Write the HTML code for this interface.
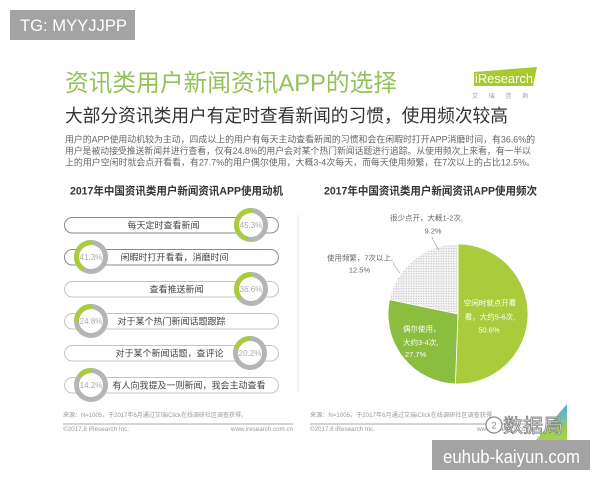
<!DOCTYPE html>
<html><head><meta charset="utf-8"><style>
html,body{margin:0;padding:0;background:#fff;width:600px;height:480px;overflow:hidden}
svg{display:block}
text{font-family:"Liberation Sans","Noto Sans CJK SC",sans-serif}
</style></head><body>
<svg width="600" height="480" viewBox="0 0 600 480" xmlns="http://www.w3.org/2000/svg">
<defs>
<pattern id="dots" width="2.5" height="2.5" patternUnits="userSpaceOnUse"><rect width="2.5" height="2.5" fill="#f3f3f3"/><circle cx="1.25" cy="1.25" r="0.55" fill="#b0b0b0"/></pattern>
<linearGradient id="tri" x1="0" y1="0" x2="0" y2="1"><stop offset="0" stop-color="#3fa2d8"/><stop offset="0.45" stop-color="#6cb8a0"/><stop offset="0.65" stop-color="#8cc63f"/><stop offset="1" stop-color="#9ccc3a"/></linearGradient>
</defs>
<rect width="600" height="480" fill="#fff"/>

<!-- TG box -->
<rect x="10" y="10" width="125" height="30" fill="#a3a3a3"/>
<text x="20" y="31" font-size="17" fill="#fff" textLength="107" lengthAdjust="spacingAndGlyphs">TG: MYYJJPP</text>

<!-- header -->
<text x="65" y="91" font-size="24" fill="#94c25a" textLength="332" lengthAdjust="spacingAndGlyphs">资讯类用户新闻资讯APP的选择</text>
<text x="65" y="122" font-size="18" fill="#333" textLength="443" lengthAdjust="spacingAndGlyphs">大部分资讯类用户有定时查看新闻的习惯，使用频次较高</text>
<text x="65" y="142.5" font-size="9" fill="#666" textLength="470" lengthAdjust="spacingAndGlyphs">用户的APP使用动机较为主动，四成以上的用户有每天主动查看新闻的习惯和会在闲暇时打开APP消磨时间，有36.6%的</text>
<text x="65" y="154" font-size="9" fill="#666" textLength="466" lengthAdjust="spacingAndGlyphs">用户是被动接受推送新闻并进行查看，仅有24.8%的用户会对某个热门新闻话题进行追踪。从使用频次上来看，有一半以</text>
<text x="65" y="165.5" font-size="9" fill="#666" textLength="470" lengthAdjust="spacingAndGlyphs">上的用户空闲时就会点开看看，有27.7%的用户偶尔使用，大概3-4次每天，而每天使用频繁，在7次以上的占比12.5%。</text>

<!-- iResearch logo -->
<polygon points="474,72 537,67 533,86 474,86" fill="#a9c92c"/>
<text x="475" y="83" font-size="12.5" fill="#fff" textLength="58" lengthAdjust="spacingAndGlyphs">iResearch</text>
<text x="472" y="98" font-size="6" fill="#999" textLength="56" lengthAdjust="spacing">艾 瑞 咨 询</text>

<!-- divider -->
<line x1="298" y1="215" x2="298" y2="392" stroke="#e6e6e6" stroke-width="1"/>

<!-- left chart -->
<text x="70" y="194.7" font-size="11" font-weight="bold" fill="#333" textLength="213" lengthAdjust="spacingAndGlyphs">2017年中国资讯类用户新闻资讯APP使用动机</text>

<g fill="none" stroke-width="1">
<rect x="64.5" y="217.5" width="214" height="15.5" rx="7.75" stroke="#8a8a8a"/>
<rect x="64.5" y="249.5" width="214" height="15.5" rx="7.75" stroke="#8a8a8a"/>
<rect x="64.5" y="281.5" width="214" height="15.5" rx="7.75" stroke="#c4c4c4"/>
<rect x="64.5" y="313.5" width="214" height="15.5" rx="7.75" stroke="#c4c4c4"/>
<rect x="64.5" y="345.5" width="214" height="15.5" rx="7.75" stroke="#c4c4c4"/>
<rect x="64.5" y="377.5" width="214" height="15.5" rx="7.75" stroke="#c4c4c4"/>
</g>
<g font-size="9" fill="#444" text-anchor="middle">
<text x="163.5" y="228.5">每天定时查看新闻</text>
<text x="174.5" y="260.5">闲暇时打开看看，消磨时间</text>
<text x="176.5" y="292.5">查看推送新闻</text>
<text x="171.5" y="324.5">对于某个热门新闻话题跟踪</text>
<text x="169.5" y="356.5">对于某个新闻话题，查评论</text>
<text x="189" y="388.5">有人向我提及一则新闻，我会主动查看</text>
</g>

<!-- rings -->
<g stroke-width="5">
<circle cx="251" cy="225" r="14.5" fill="#fff" stroke="#b5b5b5"/>
<path d="M251,210.5 A14.5,14.5 0 0,0 246.78,238.87" fill="none" stroke="#a9cb3c"/>
<circle cx="91" cy="257" r="14.5" fill="#fff" stroke="#b5b5b5"/>
<path d="M91,242.5 A14.5,14.5 0 0,0 83.46,269.39" fill="none" stroke="#a9cb3c"/>
<circle cx="251" cy="289" r="14.5" fill="#fff" stroke="#b5b5b5"/>
<path d="M251,274.5 A14.5,14.5 0 0,0 240.18,298.66" fill="none" stroke="#a9cb3c"/>
<circle cx="91" cy="321" r="14.5" fill="#fff" stroke="#b5b5b5"/>
<path d="M91,306.5 A14.5,14.5 0 0,0 76.5,320.82" fill="none" stroke="#a9cb3c"/>
<circle cx="250" cy="353" r="14.5" fill="#fff" stroke="#b5b5b5"/>
<path d="M250,338.5 A14.5,14.5 0 0,0 236.15,348.69" fill="none" stroke="#a9cb3c"/>
<circle cx="91" cy="385" r="14.5" fill="#fff" stroke="#b5b5b5"/>
<path d="M91,370.5 A14.5,14.5 0 0,0 79.71,375.9" fill="none" stroke="#a9cb3c"/>
</g>
<g font-size="8" fill="#aaa" text-anchor="middle">
<text x="251" y="227.8">45.3%</text>
<text x="91" y="259.8">41.3%</text>
<text x="251" y="291.8">36.6%</text>
<text x="91" y="323.8">24.8%</text>
<text x="250" y="355.8">20.2%</text>
<text x="91" y="387.8">14.2%</text>
</g>

<!-- right chart -->
<text x="324" y="194.7" font-size="11" font-weight="bold" fill="#333" textLength="213" lengthAdjust="spacingAndGlyphs">2017年中国资讯类用户新闻资讯APP使用频次</text>

<path d="M458,314 L458,244 A70,70 0 1,1 455.36,383.95 Z" fill="#a9cb3c" stroke="#fff" stroke-width="0.8"/>
<path d="M458,314 L455.36,383.95 A70,70 0 0,1 389.5,299.59 Z" fill="#8bbd3e" stroke="#fff" stroke-width="0.8"/>
<path d="M458,314 L389.5,299.59 A70,70 0 0,1 458,244 Z" fill="url(#dots)" stroke="#fff" stroke-width="0.8"/>

<g font-size="7.5" fill="#fff">
<text x="490" y="305.5" text-anchor="middle">空闲时就点开看</text>
<text x="490" y="319.5" text-anchor="middle">看，大约5-6次,</text>
<text x="489" y="332.5" text-anchor="middle">50.6%</text>
<text x="403" y="331.5">偶尔使用，</text>
<text x="403" y="345">大约3-4次,</text>
<text x="405" y="357">27.7%</text>
</g>
<g font-size="7.5" fill="#666">
<text x="390" y="220.7" textLength="73" lengthAdjust="spacingAndGlyphs">很少点开，大概1-2次,</text>
<text x="433" y="233.5" text-anchor="middle">9.2%</text>
<text x="327" y="260.5" textLength="66" lengthAdjust="spacingAndGlyphs">使用频繁，7次以上,</text>
<text x="359.5" y="272.5" text-anchor="middle">12.5%</text>
</g>
<g fill="none" stroke="#aaa" stroke-width="0.7">
<path d="M432,237 Q434,243 439,250"/>
<path d="M393,262 Q395,267 400,273"/>
</g>

<!-- footer -->
<g font-size="6" fill="#999">
<text x="63" y="417" textLength="184" lengthAdjust="spacingAndGlyphs">来源：N=1005，于2017年6月通过艾瑞iClick在线调研社区调查获得。</text>
<text x="63" y="431" textLength="66" lengthAdjust="spacingAndGlyphs">©2017.8 iResearch Inc.</text>
<text x="231" y="431" textLength="62" lengthAdjust="spacingAndGlyphs">www.iresearch.com.cn</text>
<text x="310" y="417" textLength="182" lengthAdjust="spacingAndGlyphs">来源：N=1005，于2017年6月通过艾瑞iClick在线调研社区调查获得</text>
<text x="310" y="431" textLength="65" lengthAdjust="spacingAndGlyphs">©2017.8 iResearch Inc.</text>
<text x="477" y="431" textLength="62" lengthAdjust="spacingAndGlyphs">www.iresearch.com.cn</text>
</g>
<line x1="63" y1="424" x2="293" y2="424" stroke="#bbb" stroke-width="1.2"/>
<line x1="310" y1="424" x2="540" y2="424" stroke="#bbb" stroke-width="1.2"/>

<!-- corner triangle + watermark -->
<polygon points="567,404 567,440 536,440" fill="url(#tri)" opacity="0.9"/>
<circle cx="494" cy="425" r="8" fill="#fff" stroke="#888" stroke-width="1.2"/>
<text x="494" y="428.5" font-size="9" fill="#888" text-anchor="middle">2</text>
<text x="503" y="432" font-size="19" fill="#f2f2f2" stroke="#777" stroke-width="0.7" textLength="60" lengthAdjust="spacingAndGlyphs">数据局</text>

<!-- euhub box -->
<rect x="432" y="440" width="158" height="30" fill="#a3a3a3"/>
<text x="443" y="463" font-size="18" fill="#fff" textLength="137" lengthAdjust="spacingAndGlyphs">euhub-kaiyun.com</text>
</svg>
</body></html>
